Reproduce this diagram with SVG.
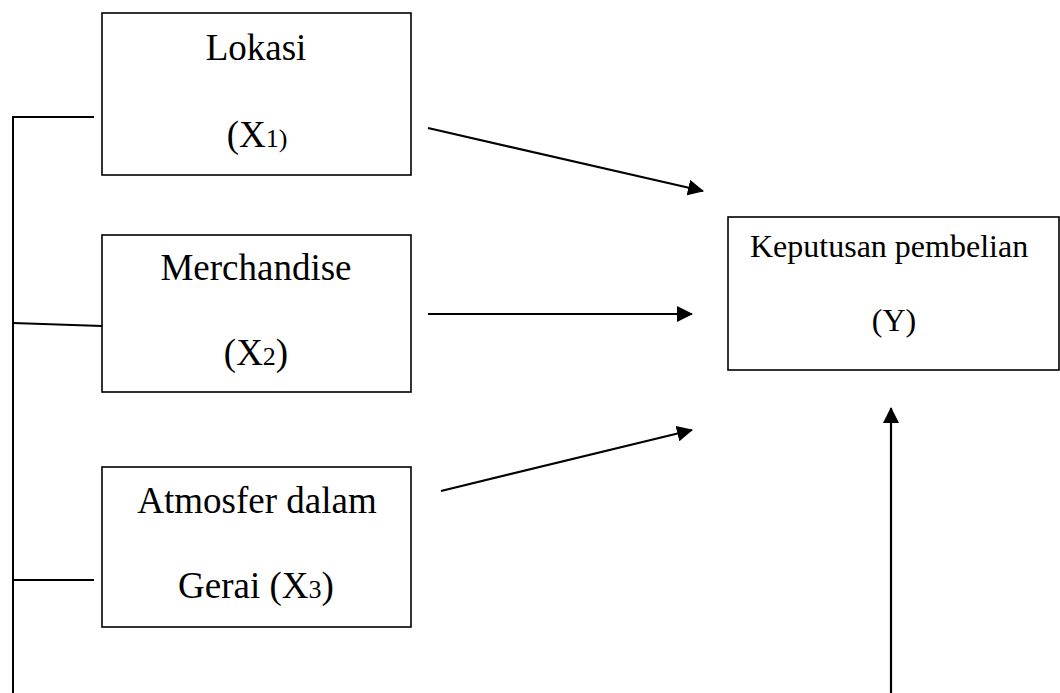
<svg xmlns="http://www.w3.org/2000/svg" width="1060" height="693" viewBox="0 0 1060 693">
<defs>
<style>
.box{fill:#fff;stroke:#000;stroke-width:1.6}
.t{font-family:"Liberation Serif","Times New Roman",serif;font-size:37px;fill:#000;text-anchor:middle}
.ty{font-family:"Liberation Serif","Times New Roman",serif;font-size:32px;fill:#000}
.sm{font-size:26px}
.ln{fill:none;stroke:#000;stroke-width:2}
.ar{fill:none;stroke:#000;stroke-width:2.2;marker-end:url(#ah)}
</style>
<marker id="ah" markerWidth="16" markerHeight="16" viewBox="0 0 16 16" refX="15" refY="8" orient="auto" markerUnits="userSpaceOnUse">
<path d="M0,0 L16,8 L0,16 Z" fill="#000"/>
</marker>
</defs>
<rect width="1060" height="693" fill="#fff"/>
<g id="connectors">
<polyline class="ln" points="94,117 13,117 13,693"/>
<line class="ln" x1="13" y1="323" x2="102" y2="326"/>
<line class="ln" x1="13" y1="580" x2="94" y2="580"/>
<line class="ar" x1="428" y1="128" x2="703" y2="191"/>
<line class="ar" x1="428" y1="314" x2="692" y2="314"/>
<line class="ar" x1="441" y1="491" x2="692" y2="430"/>
<line class="ar" x1="891" y1="693" x2="891" y2="408"/>
</g>
<g id="x1">
<rect class="box" x="102" y="13" width="309" height="162"/>
<text class="t" x="256" y="60">Lokasi</text>
<text class="t" x="257" y="147">(X<tspan class="sm">1)</tspan></text>
</g>
<g id="x2">
<rect class="box" x="102" y="235" width="309" height="157"/>
<text class="t" x="256" y="280">Merchandise</text>
<text class="t" x="256" y="365">(X<tspan class="sm">2</tspan>)</text>
</g>
<g id="x3">
<rect class="box" x="102" y="467" width="309" height="160"/>
<text class="t" x="257" y="513">Atmosfer dalam</text>
<text class="t" x="256" y="598">Gerai (X<tspan class="sm">3</tspan>)</text>
</g>
<g id="y">
<rect class="box" x="728" y="217" width="331" height="153"/>
<text class="ty" x="750" y="257">Keputusan pembelian</text>
<text class="ty" x="894" y="331" text-anchor="middle">(Y)</text>
</g>
</svg>
